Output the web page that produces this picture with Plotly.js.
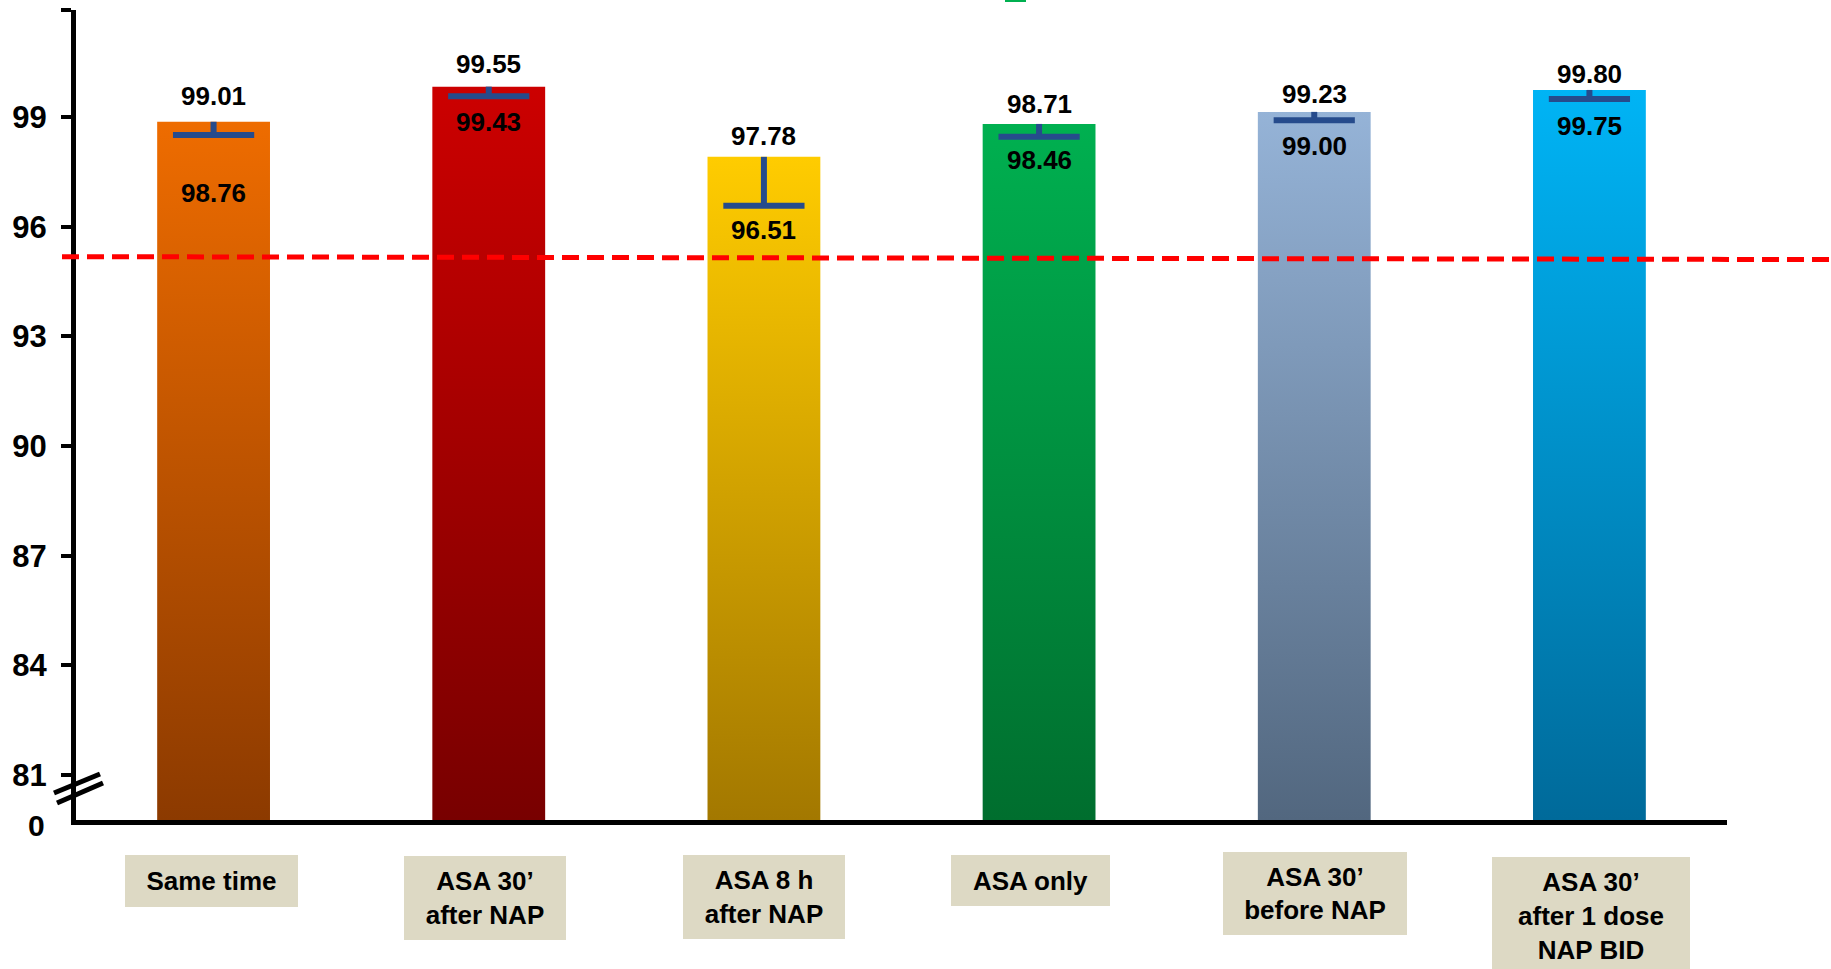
<!DOCTYPE html>
<html>
<head>
<meta charset="utf-8">
<script src="https://cdn.plot.ly/plotly-3.0.1.min.js"></script>
<style>
  html, body { margin: 0; padding: 0; background: #ffffff; }
  #chart { width: 1831px; height: 969px; }
</style>
</head>
<body>
<div id="chart"></div>
<script>
// ---------------- data ----------------
const categories = [
  "Same time",
  "ASA 30’<br>after NAP",
  "ASA 8 h<br>after NAP",
  "ASA only",
  "ASA 30’<br>before NAP",
  "ASA 30’<br>after 1 dose<br>NAP BID"
];
// bar heights as drawn
const barValues   = [98.87, 99.83, 97.91, 98.81, 99.14, 99.74];
// lower end of the error bars as drawn
const errorLow    = [98.51, 99.57, 96.57, 98.46, 98.91, 99.49];
// printed interval labels
const upperLabels = [99.01, 99.55, 97.78, 98.71, 99.23, 99.80];
const lowerLabels = [98.76, 99.43, 96.51, 98.46, 99.00, 99.75];
// reference (dashed) line
const refLineStart = 95.18;
const refLineEnd   = 95.10;
// y axis (broken: 0 shown at the bottom, then 81..99)
const tickValues = [81, 84, 87, 90, 93, 96, 99];
const tickLabels = ["81", "84", "87", "90", "93", "96", "99"];

// ---------------- style ----------------
const FONT = "Liberation Sans, Arial, Helvetica, sans-serif";
const yMin = 79.769, yMax = 101.927;
const W = 1831, H = 969;
const M = { l: 76, r: 104, t: 10, b: 149 };
const plotH = H - M.t - M.b;
const plotBottom = H - M.b;
const pyToPaper = py => (plotBottom - py) / plotH;
const pxToPaper = px => (px - M.l) / (W - M.l - M.r);

const topColors    = ["#EE6C00", "#CC0000", "#FFCC00", "#00B050", "#95B3D7", "#00B4F5"];
const bottomColors = ["#8C3A00", "#780000", "#A37800", "#006E2E", "#52677F", "#006A9A"];
const midColors    = ["#BD5300", "#A20000", "#D1A200", "#008F3F", "#748DAB", "#008FC7"];
const errColor = "#264B8C";

const upperShift = [9, 6, 4, 3, 1, -1];
const lowerShift = [41, 9, 7, 6, 9, 10];

const boxW  = [173, 162, 162, 159, 184, 198];
const boxH  = [52, 84, 84, 51, 83, 118];
const boxCY = [881, 897.5, 897, 880.5, 893.5, 916];
const boxDX = [-2, -4, 0, -9, 1, 2];

// ---------------- traces ----------------
const bars = {
  type: "bar",
  x: categories,
  y: barValues.map(v => v - yMin),
  base: barValues.map(() => yMin),
  width: 0.41,
  marker: { color: midColors, line: { width: 0 } },
  hoverinfo: "skip"
};

const errs = {
  type: "scatter",
  mode: "markers",
  x: categories,
  y: errorLow,
  marker: { symbol: "line-ew", size: 58, line: { width: 6, color: errColor }, color: errColor },
  error_y: {
    type: "data",
    symmetric: false,
    array: barValues.map((v, i) => v - errorLow[i]),
    arrayminus: barValues.map(() => 0),
    width: 0,
    thickness: 6,
    color: errColor
  },
  hoverinfo: "skip"
};

// ---------------- annotations ----------------
const annotations = [];
categories.forEach((c, i) => {
  annotations.push({
    x: c, xref: "x", y: barValues[i], yref: "y",
    text: "<b>" + upperLabels[i].toFixed(2) + "</b>",
    showarrow: false, xanchor: "center", yanchor: "bottom", yshift: upperShift[i],
    font: { family: FONT, size: 26, color: "#000000" }
  });
  annotations.push({
    x: c, xref: "x", y: errorLow[i], yref: "y",
    text: "<b>" + lowerLabels[i].toFixed(2) + "</b>",
    showarrow: false, xanchor: "center", yanchor: "top", yshift: -lowerShift[i],
    font: { family: FONT, size: 26, color: "#000000" }
  });
  annotations.push({
    x: c, xref: "x", y: pyToPaper(boxCY[i]), yref: "paper",
    text: "<b>" + c + "</b>",
    showarrow: false, xanchor: "center", yanchor: "middle", xshift: boxDX[i],
    width: boxW[i], height: boxH[i], borderpad: 0, borderwidth: 0,
    bgcolor: "#DDD9C4", align: "center", valign: "middle",
    font: { family: FONT, size: 26, color: "#000000" }
  });
});
// "0" label at the bottom of the broken axis
annotations.push({
  x: pxToPaper(47), xref: "paper", y: pyToPaper(826), yref: "paper",
  text: "<b>0</b>", showarrow: false, xanchor: "right", yanchor: "middle",
  font: { family: FONT, size: 30, color: "#000000" }
});

// ---------------- shapes ----------------
const shapes = [
  { type: "line", xref: "paper", yref: "y",
    x0: pxToPaper(62), x1: pxToPaper(1831), y0: refLineStart, y1: refLineEnd,
    line: { color: "#FF0000", width: 5, dash: "17px,8px" } },
  // axis break marks
  { type: "line", xref: "paper", yref: "paper",
    x0: pxToPaper(54), y0: pyToPaper(793), x1: pxToPaper(100), y1: pyToPaper(774),
    line: { color: "#000000", width: 5 } },
  { type: "line", xref: "paper", yref: "paper",
    x0: pxToPaper(57), y0: pyToPaper(803), x1: pxToPaper(103), y1: pyToPaper(783),
    line: { color: "#000000", width: 5 } },
  // small green mark at the top edge
  { type: "rect", xref: "paper", yref: "paper",
    x0: pxToPaper(1005), x1: pxToPaper(1026), y0: pyToPaper(2), y1: pyToPaper(-1),
    fillcolor: "#00B050", line: { width: 0 } }
];

const layout = {
  width: W, height: H,
  margin: M,
  paper_bgcolor: "#ffffff",
  plot_bgcolor: "#ffffff",
  showlegend: false,
  font: { family: FONT, color: "#000000" },
  xaxis: {
    type: "category",
    range: [-0.5, 5.5],
    showticklabels: false, ticks: "",
    showline: true, linewidth: 5, linecolor: "#000000",
    showgrid: false, zeroline: false, fixedrange: true
  },
  yaxis: {
    range: [yMin, yMax],
    tickmode: "array",
    tickvals: tickValues.concat([yMax]),
    ticktext: tickLabels.concat([""]),
    ticks: "outside", ticklen: 10, tickwidth: 4, tickcolor: "#000000",
    ticklabelstandoff: 8,
    tickfont: { family: FONT, size: 31, color: "#000000", weight: "bold" },
    showline: true, linewidth: 5, linecolor: "#000000",
    showgrid: false, zeroline: false, fixedrange: true
  },
  annotations: annotations,
  shapes: shapes
};

Plotly.newPlot("chart", [bars, errs], layout, { staticPlot: true, displayModeBar: false }).then(gd => {
  const ns = "http://www.w3.org/2000/svg";
  const svg = gd.querySelector(".main-svg");
  let defs = svg.querySelector("defs");
  if (!defs) { defs = document.createElementNS(ns, "defs"); svg.insertBefore(defs, svg.firstChild); }
  const paths = gd.querySelectorAll(".barlayer .trace .point path");
  paths.forEach((p, i) => {
    const g = document.createElementNS(ns, "linearGradient");
    g.setAttribute("id", "barGrad" + i);
    g.setAttribute("x1", "0"); g.setAttribute("y1", "0");
    g.setAttribute("x2", "0"); g.setAttribute("y2", "1");
    [[0, topColors[i]], [1, bottomColors[i]]].forEach(([o, col]) => {
      const s = document.createElementNS(ns, "stop");
      s.setAttribute("offset", o);
      s.setAttribute("stop-color", col);
      g.appendChild(s);
    });
    defs.appendChild(g);
    p.style.fill = "url(#barGrad" + i + ")";
  });
});
</script>
</body>
</html>
